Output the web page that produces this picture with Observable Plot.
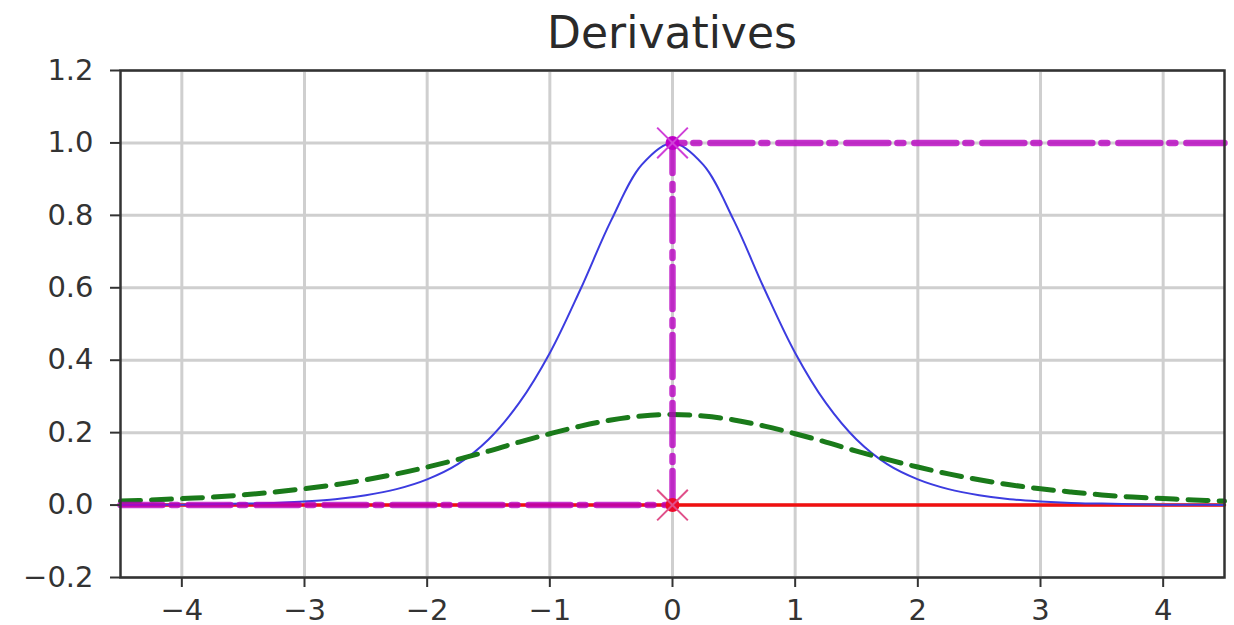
<!DOCTYPE html>
<html>
<head>
<meta charset="utf-8">
<script src="https://cdn.jsdelivr.net/npm/d3@7"></script>
<script src="https://cdn.jsdelivr.net/npm/@observablehq/plot@0.6"></script>
<style>
  html, body { margin: 0; padding: 0; background: #fff; }
  #title { height: 41px; padding-top: 11px; width: 1234px; font: 44px "DejaVu Sans"; color: #2a2a2a; overflow: visible; }
  #title span { display: block; margin-left: 120px; width: 1104px; text-align: center; line-height: 44px; }
</style>
</head>
<body>
<div id="title"><span>Derivatives</span></div>
<div id="chart"></div>
<script>
// sampled x positions
const xs = [-4.5,-4.25,-4,-3.75,-3.5,-3.25,-3,-2.75,-2.5,-2.25,-2,-1.75,-1.5,-1.25,-1,-0.75,-0.5,-0.25,0,
            0.25,0.5,0.75,1,1.25,1.5,1.75,2,2.25,2.5,2.75,3,3.25,3.5,3.75,4,4.25,4.5];
// blue solid curve (tanh derivative)
const blueY = [0.000,0.001,0.001,0.002,0.004,0.006,0.010,0.016,0.027,0.044,0.071,0.113,0.181,0.282,0.420,0.596,0.786,0.940,1.000,
               0.940,0.786,0.596,0.420,0.282,0.181,0.113,0.071,0.044,0.027,0.016,0.010,0.006,0.004,0.002,0.001,0.001,0.000];
// green dashed curve (sigmoid derivative)
const greenY = [0.011,0.014,0.018,0.022,0.028,0.036,0.045,0.056,0.070,0.086,0.105,0.126,0.149,0.174,0.197,0.218,0.235,0.246,0.250,
                0.246,0.235,0.218,0.197,0.174,0.149,0.126,0.105,0.086,0.070,0.056,0.045,0.036,0.028,0.022,0.018,0.014,0.011];
// red solid line (step derivative)
const redX = [-4.5, 4.5];
const redY = [0, 0];
// magenta dash-dot (ReLU derivative)
const magX = [-4.5, 0, 0, 4.5];
const magY = [0, 0, 1, 1];
// markers
const markX = [0, 0];
const markY = [1, 0];
const markColor = ["#c000c8", "#ee0a2a"];
const markCross = ["#d040d8", "#e0508a"];
// ticks
const xTicks = [-4,-3,-2,-1,0,1,2,3,4];
const yTicks = [-0.2,0,0.2,0.4,0.6,0.8,1.0,1.2];

const curve = xs.map((x, i) => ({x, blue: blueY[i], green: greenY[i]}));
const red = redX.map((x, i) => ({x, y: redY[i]}));
const mag = magX.map((x, i) => ({x, y: magY[i]}));
const marks = markX.map((x, i) => ({x, y: markY[i], c: markColor[i], cc: markCross[i]}));

const fmt = d => (d < 0 ? "\u2212" : "") + Math.abs(d).toFixed(1);
const fmtX = d => (d < 0 ? "\u2212" : "") + Math.abs(d);

const plot = Plot.plot({
  width: 1234,
  height: 573,
  marginLeft: 120,
  marginRight: 10,
  marginTop: 18,
  marginBottom: 48,
  style: {fontFamily: "DejaVu Sans", fontSize: "29px", color: "#333", background: "transparent", overflow: "visible"},
  x: {domain: [-4.5, 4.5], ticks: xTicks, tickFormat: fmtX, label: null},
  y: {domain: [-0.2, 1.2], ticks: yTicks, tickFormat: fmt, label: null},
  marks: [
    Plot.gridX(xTicks, {stroke: "#cfcfcf", strokeOpacity: 1, strokeWidth: 3}),
    Plot.gridY(yTicks, {stroke: "#cfcfcf", strokeOpacity: 1, strokeWidth: 3}),
    Plot.line(red, {x: "x", y: "y", stroke: "#f01010", strokeWidth: 3.5}),
    Plot.line(curve, {x: "x", y: "blue", stroke: "#3c3ce0", strokeWidth: 2, curve: "catmull-rom"}),
    Plot.line(curve, {x: "x", y: "green", stroke: "#1a7a1a", strokeWidth: 5, strokeDasharray: "20,11", curve: "catmull-rom"}),
    Plot.line(mag, {x: "x", y: "y", stroke: "#b800c0", strokeOpacity: 0.8, strokeWidth: 6.5, strokeDasharray: "42,9,6,11"}),
    Plot.dot(marks, {x: "x", y: "y", r: 7, fill: "c", stroke: "none"}),
    Plot.dot(marks, {x: "x", y: "y", r: 14, symbol: "times", stroke: "cc", strokeWidth: 2}),
    Plot.axisX({ticks: xTicks, tickFormat: fmtX, tickSize: 10, tickPadding: 12, stroke: "#333", strokeWidth: 2, fontSize: 29}),
    Plot.axisY({ticks: yTicks, tickFormat: fmt, tickSize: 10, tickPadding: 17, stroke: "#333", strokeWidth: 2, fontSize: 29}),
    Plot.frame({stroke: "#333", strokeWidth: 2.5})
  ]
});
document.getElementById("chart").appendChild(plot);
</script>
</body>
</html>
